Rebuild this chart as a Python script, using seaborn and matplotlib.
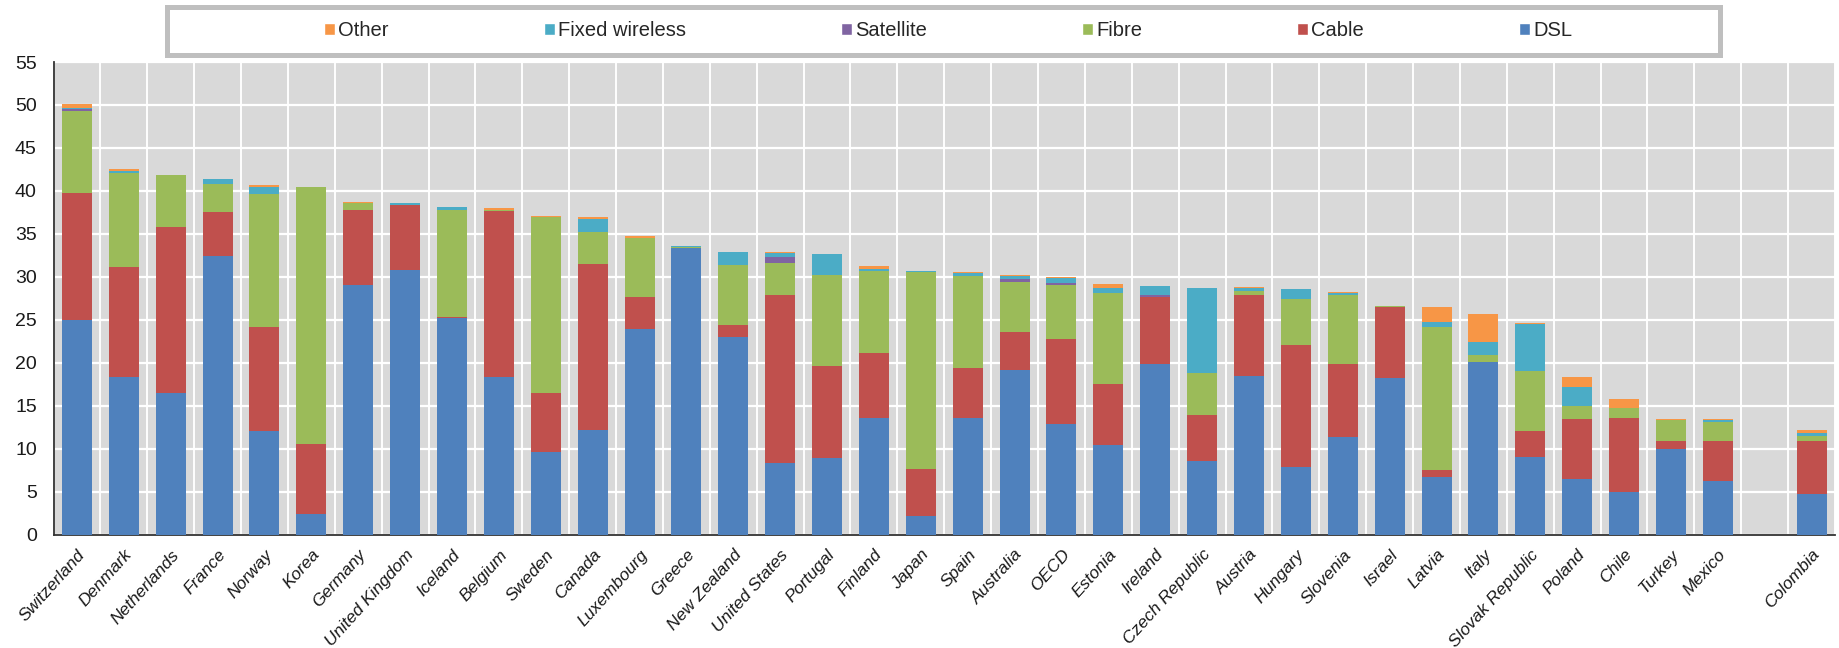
import numpy as np
import matplotlib
matplotlib.use("Agg")
import matplotlib.pyplot as plt
import seaborn as sns
from matplotlib.patches import Patch, Rectangle

countries = ["Switzerland", "Denmark", "Netherlands", "France", "Norway", "Korea",
             "Germany", "United Kingdom", "Iceland", "Belgium", "Sweden", "Canada",
             "Luxembourg", "Greece", "New Zealand", "United States", "Portugal",
             "Finland", "Japan", "Spain", "Australia", "OECD", "Estonia", "Ireland",
             "Czech Republic", "Austria", "Hungary", "Slovenia", "Israel", "Latvia",
             "Italy", "Slovak Republic", "Poland", "Chile", "Turkey", "Mexico", " ",
             "Colombia"]

dsl = [25.0, 18.3, 16.5, 32.4, 12.0, 2.4, 29.1, 30.8, 25.2, 18.3, 9.6, 12.2,
       23.9, 33.4, 23.0, 8.3, 8.9, 13.6, 2.2, 13.6, 19.2, 12.9, 10.4, 19.9,
       8.6, 18.5, 7.9, 11.3, 18.2, 6.7, 20.1, 9.0, 6.5, 5.0, 10.0, 6.2, 0.0, 4.7]
cable = [14.8, 12.8, 19.3, 5.1, 12.2, 8.1, 8.7, 7.6, 0.1, 19.3, 6.9, 19.3,
         3.7, 0.0, 1.4, 19.6, 10.7, 7.5, 5.4, 5.8, 4.4, 9.8, 7.1, 7.8,
         5.3, 9.4, 14.2, 8.5, 8.3, 0.8, 0.0, 3.1, 7.0, 8.6, 0.85, 4.7, 0.0, 6.2]
fibre = [9.5, 11.0, 6.0, 3.35, 15.4, 29.9, 0.8, 0.0, 12.5, 0.2, 20.4, 3.7,
         6.95, 0.1, 6.95, 3.65, 10.6, 9.6, 22.95, 10.65, 5.75, 6.35, 10.65, 0.0,
         4.9, 0.45, 5.3, 8.05, 0.05, 16.6, 0.8, 6.9, 1.5, 1.1, 2.45, 2.2, 0.0, 0.6]
satellite = [0.2, 0.0, 0.0, 0.0, 0.0, 0.0, 0.0, 0.0, 0.0, 0.0, 0.0, 0.0,
             0.0, 0.0, 0.0, 0.7, 0.0, 0.0, 0.0, 0.0, 0.4, 0.25, 0.0, 0.2,
             0.0, 0.0, 0.0, 0.0, 0.0, 0.0, 0.0, 0.0, 0.0, 0.0, 0.0, 0.0, 0.0, 0.0]
fixed_wireless = [0.1, 0.2, 0.0, 0.55, 0.9, 0.0, 0.0, 0.2, 0.3, 0.0, 0.1, 1.5,
                  0.0, 0.1, 1.5, 0.5, 2.4, 0.15, 0.15, 0.35, 0.3, 0.5, 0.6, 1.0,
                  9.9, 0.35, 1.2, 0.25, 0.0, 0.6, 1.5, 5.45, 2.15, 0.0, 0.0, 0.2, 0.0, 0.3]
other = [0.5, 0.2, 0.0, 0.0, 0.2, 0.0, 0.1, 0.0, 0.0, 0.15, 0.1, 0.2,
         0.15, 0.0, 0.0, 0.1, 0.0, 0.35, 0.0, 0.15, 0.15, 0.2, 0.4, 0.0,
         0.0, 0.15, 0.0, 0.1, 0.0, 1.8, 3.3, 0.15, 1.2, 1.1, 0.1, 0.15, 0.0, 0.35]

series_names = ["DSL", "Cable", "Fibre", "Satellite", "Fixed wireless", "Other"]
series_colors = ["#4f81bd", "#c0504d", "#9bbb59", "#8064a2", "#4bacc6", "#f79646"]
yticks = list(range(0, 56, 5))

sns.set_style("white")
plt.rcParams["font.family"] = ["Liberation Sans", "DejaVu Sans"]

W, H = 1839, 648
fig = plt.figure(figsize=(W / 100, H / 100), dpi=100)
left, right, bottom, top = 53.5, 1835, 534.5, 62
ax = fig.add_axes([left / W, 1 - bottom / H, (right - left) / W, (bottom - top) / H])
ax.set_facecolor("#d9d9d9")

stack = np.cumsum(np.array([dsl, cable, fibre, satellite, fixed_wireless, other]), axis=0)
for i in reversed(range(len(series_names))):
    sns.barplot(x=countries, y=stack[i], order=countries, color=series_colors[i],
                saturation=1, width=0.64, errorbar=None, ax=ax, zorder=3,
                linewidth=0, edgecolor="none")

n = len(countries)
ax.set_xlim(-0.5, n - 0.5)
ax.set_ylim(0, 55)
ax.set_yticks(yticks)
ax.set_xticks(range(n))
ax.set_xticklabels(countries, rotation=48, ha="right", rotation_mode="anchor",
                   fontstyle="italic", fontsize=12.5, color="#1a1a1a")
ax.set_xticks(np.arange(-0.5, n, 1), minor=True)
ax.tick_params(axis="x", which="major", length=0, pad=9)
ax.tick_params(axis="x", which="minor", length=6, width=1.2, color="#333333", direction="out")
ax.tick_params(axis="y", length=5, width=1.2, color="#333333", direction="out",
               labelsize=14, pad=7, labelcolor="#1a1a1a")
ax.grid(axis="y", which="major", color="white", linewidth=1.6, zorder=0)
ax.grid(axis="x", which="minor", color="white", linewidth=1.4, zorder=0)
ax.grid(axis="x", which="major", visible=False)
ax.set_axisbelow(True)
for s in ["top", "right"]:
    ax.spines[s].set_visible(False)
for s in ["left", "bottom"]:
    ax.spines[s].set_color("#333333")
    ax.spines[s].set_linewidth(1.3)
ax.set_xlabel("")
ax.set_ylabel("")

# legend frame
lw = 5
fig.patches.append(Rectangle(((164 + lw / 2) / W, 1 - (57 - lw / 2) / H),
                             (1722 - 164 - lw) / W, (57 - 4 - lw) / H,
                             transform=fig.transFigure, facecolor="white",
                             edgecolor="#bfbfbf", linewidth=lw * 0.72, zorder=0))
handles = [Patch(facecolor=series_colors[i], label=series_names[i])
           for i in reversed(range(len(series_names)))]
fig.legend(handles=handles, loc="center", bbox_to_anchor=(948 / W, 1 - 30.5 / H),
           ncol=6, frameon=False, fontsize=14.5, handlelength=0.55, handleheight=0.55,
           handletextpad=0.15, columnspacing=7.7)

fig.savefig("out.png", dpi=100)
